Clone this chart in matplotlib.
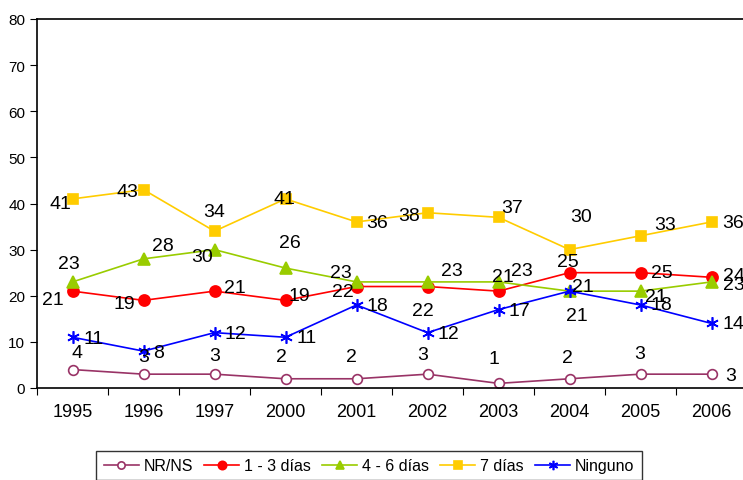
import matplotlib.pyplot as plt
import numpy as np

plt.rcParams['font.family'] = ['Liberation Sans', 'DejaVu Sans']

years = ['1995', '1996', '1997', '2000', '2001', '2002', '2003', '2004', '2005', '2006']
nrns = [4, 3, 3, 2, 2, 3, 1, 2, 3, 3]
dias_1_3 = [21, 19, 21, 19, 22, 22, 21, 25, 25, 24]
dias_4_6 = [23, 28, 30, 26, 23, 23, 23, 21, 21, 23]
dias_7 = [41, 43, 34, 41, 36, 38, 37, 30, 33, 36]
ninguno = [11, 8, 12, 11, 18, 12, 17, 21, 18, 14]

# label offsets in pixels (dx, dy up)
off_nrns = [(5, 17), (0, 18), (0, 19), (-4, 22), (-5, 22), (-5, 20), (-5, 25), (-2, 21), (-1, 21), (19, -1)]
off_13 = [(-20, -8), (-19, -3), (20, 4), (14, 5), (-14, -5), (-5, -24), (4, 15), (-2, 11), (21, 0), (22, 2)]
off_46 = [(-4, 18), (19, 13), (-12, -7), (4, 26), (-16, 9), (24, 11), (23, 11), (7, -24), (15, -5), (22, -3)]
off_7 = [(-12, -5), (-16, -2), (0, 20), (-1, 0), (21, -1), (-18, -3), (14, 10), (12, 33), (25, 11), (22, -1)]
off_nin = [(21, -1), (15, -1), (21, -1), (21, 0), (21, -1), (21, -1), (21, -1), (13, 5), (21, 0), (22, 0)]

fig = plt.figure(figsize=(7.43, 4.81), dpi=100)
ax = fig.add_axes([37 / 743, 1 - 389 / 481, 710 / 743, 369 / 481])
x = np.arange(len(years))

series = [
    ('NR/NS', nrns, '#993366', 'o', 'white', 7, off_nrns),
    ('1 - 3 días', dias_1_3, '#FF0000', 'o', '#FF0000', 8, off_13),
    ('4 - 6 días', dias_4_6, '#99CC00', '^', '#99CC00', 8, off_46),
    ('7 días', dias_7, '#FFCC00', 's', '#FFCC00', 7, off_7),
    ('Ninguno', ninguno, '#0000FF', (6, 2, 0), '#0000FF', 9, off_nin),
]

for name, vals, col, mk, face, ms, offs in series:
    ax.plot(x, vals, color=col, lw=1.2, marker=mk, markerfacecolor=face,
            markeredgecolor=col, markersize=ms, markeredgewidth=1.2, label=name)
for name, vals, col, mk, face, ms, offs in series:
    for i, v in enumerate(vals):
        ax.annotate(str(v), (x[i], v), xytext=offs[i], textcoords='offset pixels',
                    ha='center', va='center', fontsize=14, color='black')

ax.set_xlim(-0.5, len(years) - 0.5)
ax.set_ylim(0, 80)
ax.set_yticks(range(0, 81, 10))
ax.tick_params(axis='y', labelsize=11, length=5, direction='out')
ax.set_xticks(np.arange(len(years) + 1) - 0.5)
ax.set_xticklabels([])
ax.set_xticks(x, minor=True)
ax.set_xticklabels(years, minor=True)
ax.tick_params(axis='x', which='major', length=5, direction='out')
ax.tick_params(axis='x', which='minor', length=0, labelsize=13, pad=11)
for s in ax.spines.values():
    s.set_linewidth(1.2)

leg = fig.legend(loc='upper center', bbox_to_anchor=(369 / 743, 1 - 452 / 481), ncol=5,
                 fontsize=11.5, frameon=True, fancybox=False, edgecolor='black',
                 handlelength=2.2, handletextpad=0.3, columnspacing=0.7, borderpad=0.45,
                 borderaxespad=0, markerscale=0.75)
leg.get_frame().set_linewidth(1.0)

fig.savefig('out.png', dpi=100)
